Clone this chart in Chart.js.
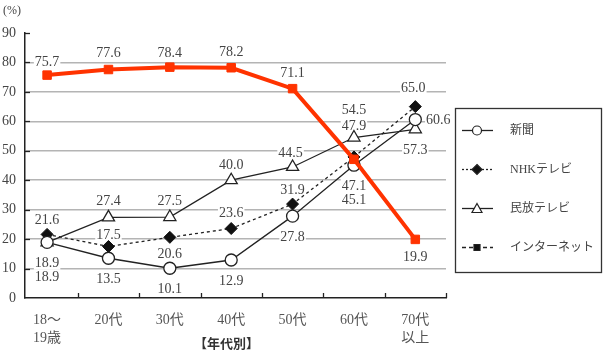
<!DOCTYPE html>
<html><head><meta charset="utf-8">
<script src="https://cdn.jsdelivr.net/npm/chart.js@4/dist/chart.umd.min.js"></script>
<style>html,body{margin:0;padding:0;background:#fff;}canvas{display:block;}</style>
</head><body>
<canvas id="c" width="605" height="355"></canvas>
<script>
// ---- data ----
const categories = [['18～','19歳'], '20代', '30代', '40代', '50代', '60代', ['70代','以上']];
const seriesNames = ['新聞', 'NHKテレビ', '民放テレビ', 'インターネット'];
const shinbun  = [18.9, 13.5, 10.1, 12.9, 27.8, 45.1, 60.6];
const nhk      = [21.6, 17.5, 20.6, 23.6, 31.9, 47.9, 65.0];
const minpo    = [18.9, 27.4, 27.5, 40.0, 44.5, 54.5, 57.3];
const internet = [75.7, 77.6, 78.4, 78.2, 71.1, 47.1, 19.9];
const yTickValues = [0, 10, 20, 30, 40, 50, 60, 70, 80, 90];
const yUnit = '(%)';
const xTitle = '【年代別】';

// ---- label offsets (style, px) ----
const labelOffsets = [
  [[0,34],[0,20],[0,20],[0,20],[0,20],[0,34],[23,0]],
  [[0,-15],[0,-12],[0,16],[0,-16],[0,-15],[0,-32],[-2,-19]],
  [[0,20],[0,-17],[0,-17],[0,-16],[-2,-15],[0,-28],[0,20]],
  [[0,-14],[0,-17],[0,-15],[0,-16],[0,-16],[0,26],[0,17]]
];

const SERIF = "'Liberation Serif', 'DejaVu Serif', 'Noto Sans CJK JP', serif";
const JP = "'Noto Sans CJK JP', sans-serif";
const RED = '#ff3300';
const INK = '#222';

const toXY = arr => arr.map((v, i) => ({x: i, y: v}));

const legendStyles = [
  {dash: [], marker: 'circle', fill: '#fff'},
  {dash: [2, 2], marker: 'diamond', fill: '#111'},
  {dash: [], marker: 'triangle', fill: '#fff'},
  {dash: [4, 3], marker: 'square', fill: '#111'}
];

function drawMarker(ctx, type, x, y, fill) {
  ctx.save();
  ctx.setLineDash([]);
  ctx.fillStyle = fill; ctx.strokeStyle = INK; ctx.lineWidth = 1.2;
  ctx.beginPath();
  if (type === 'circle') { ctx.arc(x, y, 4.5, 0, Math.PI * 2); }
  else if (type === 'diamond') { ctx.moveTo(x, y-5); ctx.lineTo(x+5, y); ctx.lineTo(x, y+5); ctx.lineTo(x-5, y); ctx.closePath(); }
  else if (type === 'triangle') { ctx.moveTo(x, y-5); ctx.lineTo(x+5, y+4); ctx.lineTo(x-5, y+4); ctx.closePath(); }
  else { ctx.rect(x-3, y-3, 6, 6); }
  ctx.fill(); ctx.stroke();
  ctx.restore();
}

const decoPlugin = {
  id: 'deco',
  beforeDatasetsDraw(chart) {
    const ctx = chart.ctx;
    ctx.save();
    ctx.font = '14px ' + SERIF;
    ctx.textAlign = 'center';
    ctx.textBaseline = 'middle';
    chart.data.datasets.forEach((ds, di) => {
      const meta = chart.getDatasetMeta(di);
      meta.data.forEach((pt, i) => {
        const off = labelOffsets[di][i];
        const txt = ds.data[i].y.toFixed(1);
        const x = pt.x + off[0], y = pt.y + off[1];
        const w = ctx.measureText(txt).width;
        ctx.fillStyle = '#fff';
        ctx.fillRect(x - w/2 - 1, y - 7, w + 2, 14);
        ctx.fillStyle = '#444';
        ctx.fillText(txt, x, y + 1);
      });
    });
    ctx.restore();
  },
  afterDraw(chart) {
    const ctx = chart.ctx;
    const area = chart.chartArea;
    const xs = chart.scales.x, ys = chart.scales.y;
    ctx.save();
    // inner tick marks
    ctx.strokeStyle = INK; ctx.lineWidth = 1.3;
    for (let k = 0; k < categories.length; k++) {
      const px = Math.round(xs.getPixelForValue(k + 0.5)) + 0.5;
      ctx.beginPath(); ctx.moveTo(px, area.bottom); ctx.lineTo(px, area.bottom - 5); ctx.stroke();
    }
    yTickValues.forEach(v => {
      if (v === 0) return;
      const py = Math.round(ys.getPixelForValue(v)) + 0.5;
      ctx.beginPath(); ctx.moveTo(area.left, py); ctx.lineTo(area.left + 5, py); ctx.stroke();
    });
    // unit
    ctx.fillStyle = '#444';
    ctx.font = '12px ' + SERIF;
    ctx.textAlign = 'left'; ctx.textBaseline = 'middle';
    ctx.fillText(yUnit, area.left - 22, area.top - 22);
    // x title
    ctx.font = 'bold 13px ' + JP;
    ctx.fillStyle = '#333';
    ctx.textAlign = 'center';
    ctx.fillText(xTitle, (area.left + area.right) / 2 - 9, chart.height - 12);
    // legend
    const bx = area.right + 9, by = 108, bw = 146, bh = 164;
    ctx.strokeStyle = '#333'; ctx.lineWidth = 1.3;
    ctx.strokeRect(bx + 0.5, by + 0.5, bw, bh);
    seriesNames.forEach((name, i) => {
      const st = legendStyles[i];
      const ly = by + 22 + 39 * i;
      ctx.save();
      ctx.strokeStyle = INK; ctx.lineWidth = 1.3;
      ctx.setLineDash(st.dash);
      ctx.beginPath(); ctx.moveTo(bx + 7, ly + 0.5); ctx.lineTo(bx + 38, ly + 0.5); ctx.stroke();
      ctx.restore();
      drawMarker(ctx, st.marker, bx + 22, ly + 0.5, st.fill);
      ctx.fillStyle = '#444';
      ctx.font = '12px ' + SERIF;
      ctx.textAlign = 'left'; ctx.textBaseline = 'middle';
      ctx.fillText(name, bx + 55, ly + 1);
    });
    ctx.restore();
  }
};

new Chart(document.getElementById('c'), {
  type: 'line',
  data: {
    datasets: [
      {label: seriesNames[0], data: toXY(shinbun), borderColor: INK, borderWidth: 1.3,
       pointStyle: 'circle', pointRadius: 6, pointBackgroundColor: '#fff', pointBorderColor: INK, pointBorderWidth: 1.3, order: 1},
      {label: seriesNames[1], data: toXY(nhk), borderColor: INK, borderWidth: 1.3, borderDash: [3, 3],
       pointStyle: 'rectRot', pointRadius: 6, pointBackgroundColor: '#111', pointBorderColor: '#111', pointBorderWidth: 1, order: 2},
      {label: seriesNames[2], data: toXY(minpo), borderColor: INK, borderWidth: 1.3,
       pointStyle: 'triangle', pointRadius: 7, pointBackgroundColor: '#fff', pointBorderColor: INK, pointBorderWidth: 1.3, order: 3},
      {label: seriesNames[3], data: toXY(internet), borderColor: RED, borderWidth: 4,
       pointStyle: 'rect', pointRadius: 6, pointBackgroundColor: RED, pointBorderColor: RED, pointBorderWidth: 1, order: 0}
    ]
  },
  options: {
    responsive: false,
    animation: false,
    layout: {padding: {top: 33, right: 159, bottom: 0, left: 0}},
    plugins: {legend: {display: false}, tooltip: {enabled: false}},
    scales: {
      x: {
        type: 'linear',
        min: -0.36, max: 6.5,
        afterBuildTicks: s => { s.ticks = categories.map((c, i) => ({value: i})); },
        afterFit: s => { s.height = 57; },
        grid: {display: false},
        border: {display: true, color: INK, width: 1.5},
        ticks: {
          autoSkip: false, maxRotation: 0, padding: 6,
          color: '#555', font: {family: SERIF, size: 14, lineHeight: 1.25},
          callback: (v, i) => categories[i]
        }
      },
      y: {
        min: 0, max: 90,
        afterBuildTicks: s => { s.ticks = yTickValues.map(v => ({value: v})); },
        afterFit: s => { s.width = 25; },
        grid: {
          drawTicks: false, lineWidth: 1.5,
          color: c => (c.tick && (c.tick.value === 0 || c.tick.value === 90)) ? 'rgba(0,0,0,0)' : '#b4b4b4'
        },
        border: {display: true, color: INK, width: 1.5},
        ticks: {padding: 9, color: '#444', font: {family: SERIF, size: 14}}
      }
    }
  },
  plugins: [decoPlugin]
});
</script>
</body></html>
